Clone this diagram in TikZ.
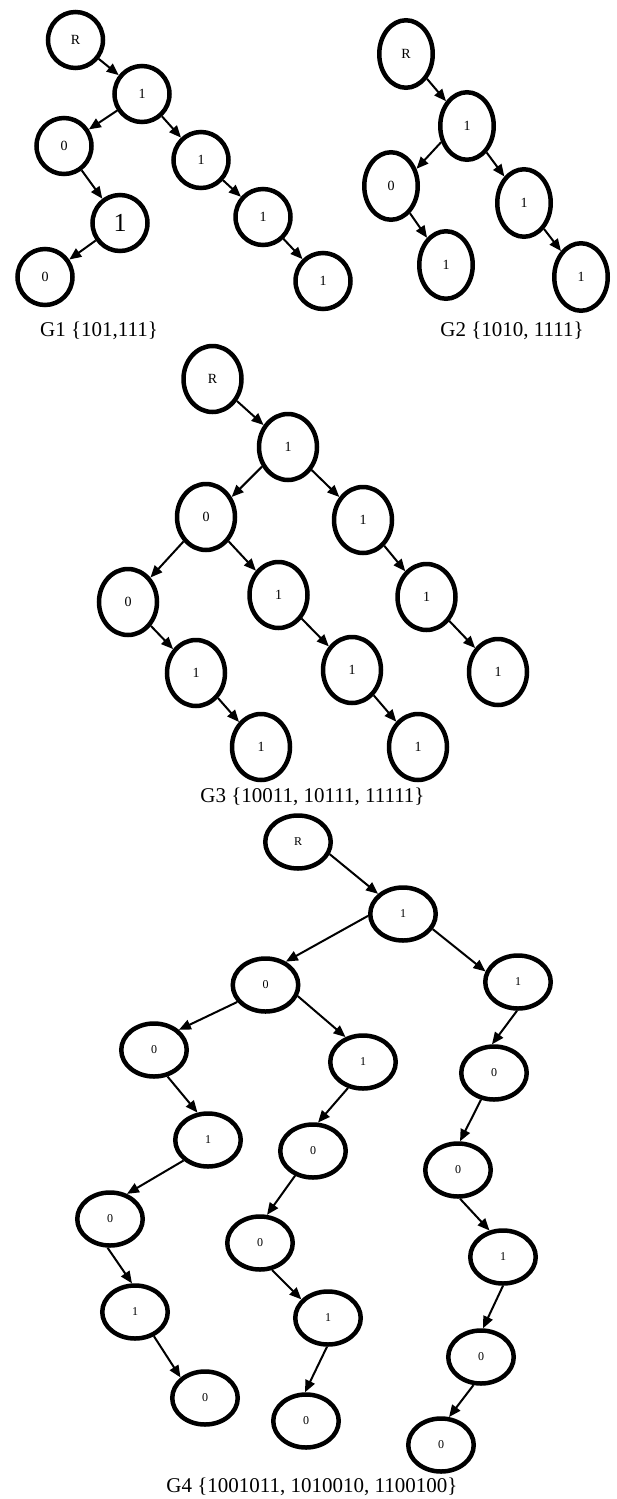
\documentclass[tikz,border=0pt]{standalone}
\usepackage{fontspec}
\setmainfont{Liberation Serif}
\usetikzlibrary{arrows.meta,shapes.geometric}
\tikzset{
  nd/.style={draw=black, ellipse, line width=4.5pt, inner sep=0pt,
    font=\fontsize{14}{14}\selectfont},
  gA/.style={nd, minimum width=55pt, minimum height=56pt},
  gB/.style={nd, minimum width=53.5pt, minimum height=67.5pt},
  gC/.style={nd, minimum width=58pt, minimum height=66pt},
  gD/.style={nd, minimum width=65.5pt, minimum height=53pt, font=\fontsize{12}{12}\selectfont},
  ed/.style={line width=2pt, -{Triangle[length=12pt,width=10pt]}},
  captxt/.style={font=\fontsize{21}{21}\selectfont}
}
\begin{document}
\begin{tikzpicture}[x=1pt,y=-1pt]
\useasboundingbox (0,0) rectangle (616,1499);
% ---------- G1 ----------
\node[gA] (a0) at (75.5,40) {R};
\node[gA] (a1) at (142,94) {1};
\node[gA] (a2) at (64,146) {0};
\node[gA] (a3) at (201,160) {1};
\node[gA, font=\fontsize{26}{26}\selectfont] (a4) at (120,223) {1};
\node[gA] (a5) at (263,217) {1};
\node[gA] (a6) at (45,277) {0};
\node[gA] (a7) at (323,281) {1};
\draw[ed] (a0) -- (a1);
\draw[ed] (a1) -- (a2);
\draw[ed] (a1) -- (a3);
\draw[ed] (a2) -- (a4);
\draw[ed] (a4) -- (a6);
\draw[ed] (a3) -- (a5);
\draw[ed] (a5) -- (a7);
\node[captxt] (capA) at (99,331) {G1 \{101,111\}};
% ---------- G2 ----------
\node[gB] (b0) at (406,54) {R};
\node[gB] (b1) at (467,126) {1};
\node[gB] (b2) at (391,186) {0};
\node[gB] (b3) at (524,203) {1};
\node[gB] (b4) at (446,265) {1};
\node[gB] (b5) at (581,277) {1};
\draw[ed] (b0) -- (b1);
\draw[ed] (b1.-148) -- (b2.34);
\draw[ed] (b1) -- (b3);
\draw[ed] (b2) -- (b4);
\draw[ed] (b3) -- (b5);
\node[captxt] (capB) at (512,331) {G2 \{1010, 1111\}};
% ---------- G3 ----------
\node[gC] (c0) at (212.5,379) {R};
\node[gC] (c1) at (288,447) {1};
\node[gC] (c2) at (206,517) {0};
\node[gC] (c3) at (363,520) {1};
\node[gC] (c4) at (128,602) {0};
\node[gC] (c5) at (278.5,595) {1};
\node[gC] (c6) at (426.5,597) {1};
\node[gC] (c7) at (196,673) {1};
\node[gC] (c8) at (352,670) {1};
\node[gC] (c9) at (498,672) {1};
\node[gC] (c10) at (261,747) {1};
\node[gC] (c11) at (418,747) {1};
\draw[ed] (c0) -- (c1);
\draw[ed] (c1.-143) -- (c2.38);
\draw[ed] (c1) -- (c3);
\draw[ed] (c2) -- (c4);
\draw[ed] (c2) -- (c5);
\draw[ed] (c3) -- (c6);
\draw[ed] (c4) -- (c7);
\draw[ed] (c5) -- (c8);
\draw[ed] (c6) -- (c9);
\draw[ed] (c7) -- (c10);
\draw[ed] (c8) -- (c11);
\node[captxt] (capC) at (312.5,797) {G3 \{10011, 10111, 11111\}};
% ---------- G4 ----------
\node[gD] (d0) at (298,842) {R};
\node[gD] (d1) at (403,914) {1};
\node[gD] (d2) at (265.5,985) {0};
\node[gD] (d3) at (518,982) {1};
\node[gD] (d4) at (154,1050) {0};
\node[gD] (d5) at (363,1062) {1};
\node[gD] (d6) at (494,1073) {0};
\node[gD] (d7) at (208,1140) {1};
\node[gD] (d8) at (313,1151) {0};
\node[gD] (d9) at (458,1170) {0};
\node[gD] (d10) at (110,1219) {0};
\node[gD] (d11) at (260,1243) {0};
\node[gD] (d12) at (503,1257) {1};
\node[gD] (d13) at (135,1312) {1};
\node[gD] (d14) at (328,1318) {1};
\node[gD] (d15) at (481,1357) {0};
\node[gD] (d16) at (205,1398) {0};
\node[gD] (d17) at (306,1421) {0};
\node[gD] (d18) at (441,1445) {0};
\draw[ed] (d0.-21) -- (d1.141);
\draw[ed] (d1.-177) -- (d2.49);
\draw[ed] (d1.-27) -- (d3.162);
\draw[ed] (d2.-149) -- (d4.39);
\draw[ed] (d2.-19) -- (d5.125);
\draw[ed] (d3.-92) -- (d6.94);
\draw[ed] (d4.-63) -- (d7.111);
\draw[ed] (d5.-120) -- (d8.80);
\draw[ed] (d6.-116) -- (d9.86);
\draw[ed] (d7.-140) -- (d10.56);
\draw[ed] (d8.-126) -- (d11.76);
\draw[ed] (d9.-86) -- (d12.117);
\draw[ed] (d10.-95) -- (d13.96);
\draw[ed] (d11.-66) -- (d14.145);
\draw[ed] (d12.-90) -- (d15.86);
\draw[ed] (d13.-52) -- (d16.140);
\draw[ed] (d14.-92) -- (d17.92);
\draw[ed] (d15.-105) -- (d18.74);
\node[captxt] (capD) at (312,1487) {G4 \{1001011, 1010010, 1100100\}};
\end{tikzpicture}
\end{document}
